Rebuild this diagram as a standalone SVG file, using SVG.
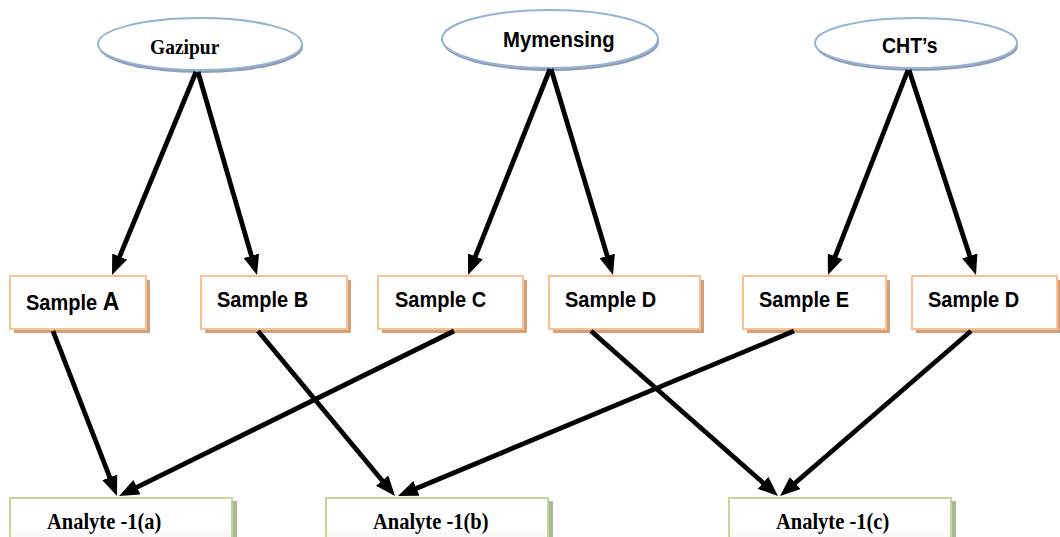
<svg xmlns="http://www.w3.org/2000/svg" width="1060" height="537" viewBox="0 0 1060 537">
  <defs>
    <style>
      .region-shadow { fill: #8d9db3; }
      .region { fill: #ffffff; stroke: #95b3d7; stroke-width: 2; }
      .sample-shadow { fill: #cfa07c; }
      .sample { fill: #ffffff; stroke: #fac08f; stroke-width: 2; }
      .analyte-shadow { fill: #a9b993; }
      .analyte { fill: url(#analyteFill); stroke: #c3d69b; stroke-width: 2; }
      .serif { font-family: "Liberation Serif", "Times New Roman", serif; font-weight: bold; fill: #000; }
      .sans { font-family: "Liberation Sans", Arial, sans-serif; font-weight: bold; fill: #000; }
      .link { stroke: #000; stroke-width: 4.8; fill: none; marker-end: url(#head); }
    </style>
    <linearGradient id="analyteFill" x1="0" y1="0" x2="0" y2="1">
      <stop offset="0" stop-color="#ffffff"/>
      <stop offset="0.6" stop-color="#ffffff"/>
      <stop offset="1" stop-color="#eef1e6"/>
    </linearGradient>
    <marker id="head" viewBox="0 0 20 16" refX="10" refY="8" markerWidth="20" markerHeight="16" markerUnits="userSpaceOnUse" orient="auto">
      <path d="M0,0 L20,8 L0,16 z" fill="#000"/>
    </marker>
  </defs>

  <!-- region nodes -->
  <g id="gazipur">
    <ellipse class="region-shadow" cx="201" cy="47" rx="102" ry="26"/>
    <ellipse class="region" cx="200" cy="44" rx="102" ry="26"/>
    <text class="serif" transform="translate(150,54) scale(1,1.12)" font-size="19.5">Gazipur</text>
  </g>
  <g id="mymensing">
    <ellipse class="region-shadow" cx="551" cy="42" rx="108" ry="29"/>
    <ellipse class="region" cx="550" cy="39" rx="108" ry="29"/>
    <text class="sans" transform="translate(503,47) scale(1,1.12)" font-size="20.3">Mymensing</text>
  </g>
  <g id="chts">
    <ellipse class="region-shadow" cx="917" cy="46" rx="101" ry="25"/>
    <ellipse class="region" cx="916" cy="43" rx="101" ry="25"/>
    <text class="sans" transform="translate(882,53) scale(1,1.12)" font-size="19.5">CHT’s</text>
  </g>

  <!-- sample nodes -->
  <g id="sampleA">
    <rect class="sample-shadow" x="14" y="280" width="136" height="53"/>
    <rect class="sample" x="10" y="276" width="136" height="53"/>
    <text class="sans" transform="translate(26,310) scale(1,1.12)" font-size="20">Sample <tspan font-size="23">A</tspan></text>
  </g>
  <g id="sampleB">
    <rect class="sample-shadow" x="205" y="280" width="146" height="53"/>
    <rect class="sample" x="201" y="276" width="146" height="53"/>
    <text class="sans" transform="translate(217,307) scale(1,1.12)" font-size="20">Sample B</text>
  </g>
  <g id="sampleC">
    <rect class="sample-shadow" x="382" y="280" width="145" height="53"/>
    <rect class="sample" x="378" y="276" width="145" height="53"/>
    <text class="sans" transform="translate(395,307) scale(1,1.12)" font-size="20">Sample C</text>
  </g>
  <g id="sampleD">
    <rect class="sample-shadow" x="553" y="280" width="151" height="53"/>
    <rect class="sample" x="549" y="276" width="151" height="53"/>
    <text class="sans" transform="translate(565,307) scale(1,1.12)" font-size="20">Sample D</text>
  </g>
  <g id="sampleE">
    <rect class="sample-shadow" x="747" y="280" width="143" height="53"/>
    <rect class="sample" x="743" y="276" width="143" height="53"/>
    <text class="sans" transform="translate(759,307) scale(1,1.12)" font-size="20">Sample E</text>
  </g>
  <g id="sampleD2">
    <rect class="sample-shadow" x="916" y="280" width="145" height="53"/>
    <rect class="sample" x="912" y="276" width="145" height="53"/>
    <text class="sans" transform="translate(928,307) scale(1,1.12)" font-size="20">Sample D</text>
  </g>

  <!-- analyte nodes -->
  <g id="analyteA">
    <rect class="analyte-shadow" x="13" y="501" width="224" height="50"/>
    <rect class="analyte" x="10" y="498" width="222" height="50"/>
    <text class="serif" transform="translate(47,529) scale(1,1.12)" font-size="20.5">Analyte -1(a)</text>
  </g>
  <g id="analyteB">
    <rect class="analyte-shadow" x="329" y="501" width="224" height="50"/>
    <rect class="analyte" x="326" y="498" width="222" height="50"/>
    <text class="serif" transform="translate(373,529) scale(1,1.12)" font-size="20.5">Analyte -1(b)</text>
  </g>
  <g id="analyteC">
    <rect class="analyte-shadow" x="732" y="501" width="224" height="50"/>
    <rect class="analyte" x="729" y="498" width="222" height="50"/>
    <text class="serif" transform="translate(776,529) scale(1,1.12)" font-size="20.5">Analyte -1(c)</text>
  </g>

  <!-- connectors -->
  <g id="connectors">
    <line class="link" x1="196" y1="72" x2="115.8" y2="265.8"/>
    <line class="link" x1="198" y1="72" x2="254.2" y2="265.4"/>
    <line class="link" x1="550" y1="69" x2="471.7" y2="265.7"/>
    <line class="link" x1="551" y1="69" x2="610.1" y2="265.4"/>
    <line class="link" x1="908" y1="70" x2="831.6" y2="265.7"/>
    <line class="link" x1="909" y1="70" x2="972.9" y2="265.5"/>
    <line class="link" x1="53" y1="331" x2="113.4" y2="486.7"/>
    <line class="link" x1="454" y1="331" x2="128" y2="491.6"/>
    <line class="link" x1="258" y1="331" x2="388.6" y2="488.3"/>
    <line class="link" x1="794" y1="331" x2="407.2" y2="492.2"/>
    <line class="link" x1="591" y1="331" x2="770.5" y2="489.4"/>
    <line class="link" x1="971" y1="331" x2="787.6" y2="489.5"/>
  </g>
</svg>
